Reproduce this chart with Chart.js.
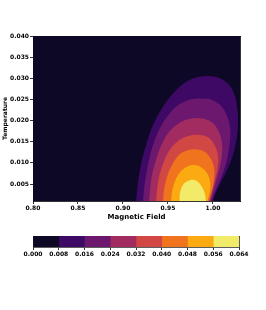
<!DOCTYPE html>
<html>
<head>
<meta charset="utf-8">
<script src="https://cdn.jsdelivr.net/npm/chart.js@4.4.0/dist/chart.umd.min.js"></script>
<style>
  html, body { margin: 0; padding: 0; background: #fff; }
  #wrap { position: relative; width: 266px; height: 310px; }
  canvas { position: absolute; left: 0; top: 0; }
</style>
</head>
<body>
<div id="wrap">
  <canvas id="contourChart" width="266" height="310"></canvas>
  <canvas id="colorbarChart" width="266" height="310"></canvas>
</div>
<script>
// Axis ranges and ticks
const fieldRange = [0.80, 1.03];
const tempRange = [0.001, 0.040];
const xTicks = [0.80, 0.85, 0.90, 0.95, 1.00];
const yTicks = [0.005, 0.010, 0.015, 0.020, 0.025, 0.030, 0.035, 0.040];

// Contour levels and their fill colours (inferno)
const levels = [0.000, 0.008, 0.016, 0.024, 0.032, 0.040, 0.048, 0.056, 0.064];
const levelColors = ['#0c0826', '#3d0965', '#6b186e', '#a22c60', '#d14744', '#f0731d', '#fbab11', '#f2ea69'];

// Contour boundaries (field, temperature)
const c008X = [0.9144, 0.9156, 0.9178, 0.9211, 0.9256, 0.9311, 0.9389, 0.9478, 0.9589, 0.9722, 0.9856, 0.9989, 1.0100, 1.0189, 1.0244, 1.0272, 1.0278, 1.0261, 1.0222, 1.0156, 1.0078, 1.0011, 1.0000];
const c008Y = [0.0005, 0.0036, 0.0071, 0.0107, 0.0142, 0.0178, 0.0213, 0.0244, 0.0272, 0.0294, 0.0304, 0.0305, 0.0298, 0.0282, 0.0258, 0.0225, 0.0190, 0.0154, 0.0119, 0.0083, 0.0050, 0.0019, 0.0005];

const c016X = [0.9222, 0.9233, 0.9256, 0.9289, 0.9333, 0.9400, 0.9489, 0.9600, 0.9733, 0.9867, 0.9989, 1.0089, 1.0156, 1.0189, 1.0189, 1.0167, 1.0122, 1.0056, 1.0000, 0.9978];
const c016Y = [0.0005, 0.0036, 0.0071, 0.0107, 0.0142, 0.0178, 0.0209, 0.0235, 0.0249, 0.0252, 0.0249, 0.0235, 0.0211, 0.0183, 0.0154, 0.0119, 0.0083, 0.0048, 0.0019, 0.0005];

const c024X = [0.9289, 0.9300, 0.9322, 0.9367, 0.9422, 0.9511, 0.9622, 0.9756, 0.9889, 1.0000, 1.0067, 1.0100, 1.0100, 1.0067, 1.0022, 0.9983, 0.9967];
const c024Y = [0.0005, 0.0036, 0.0071, 0.0107, 0.0140, 0.0173, 0.0194, 0.0205, 0.0205, 0.0194, 0.0173, 0.0147, 0.0119, 0.0083, 0.0048, 0.0019, 0.0005];

const c032X = [0.9367, 0.9378, 0.9400, 0.9444, 0.9511, 0.9611, 0.9733, 0.9856, 0.9956, 1.0022, 1.0056, 1.0050, 1.0022, 0.9989, 0.9956];
const c032Y = [0.0005, 0.0036, 0.0067, 0.0097, 0.0128, 0.0152, 0.0164, 0.0166, 0.0159, 0.0140, 0.0116, 0.0088, 0.0060, 0.0031, 0.0005];

const c040X = [0.9444, 0.9456, 0.9489, 0.9544, 0.9622, 0.9722, 0.9822, 0.9911, 0.9978, 1.0011, 1.0011, 0.9983, 0.9944];
const c040Y = [0.0005, 0.0036, 0.0067, 0.0095, 0.0119, 0.0130, 0.0132, 0.0126, 0.0109, 0.0088, 0.0060, 0.0031, 0.0005];

const c048X = [0.9533, 0.9544, 0.9578, 0.9633, 0.9711, 0.9789, 0.9867, 0.9933, 0.9967, 0.9967, 0.9933];
const c048Y = [0.0005, 0.0031, 0.0057, 0.0078, 0.0091, 0.0095, 0.0090, 0.0076, 0.0057, 0.0036, 0.0005];

const c056X = [0.9628, 0.9633, 0.9667, 0.9722, 0.9778, 0.9833, 0.9878, 0.9911, 0.9922];
const c056Y = [0.0005, 0.0029, 0.0048, 0.0057, 0.0060, 0.0055, 0.0043, 0.0026, 0.0005];

const contours = [
    [c008X, c008Y], [c016X, c016Y], [c024X, c024Y], [c032X, c032Y],
    [c040X, c040Y], [c048X, c048Y], [c056X, c056Y]
];

Chart.defaults.font.family = "'DejaVu Sans', sans-serif";
Chart.defaults.font.weight = 'bold';
Chart.defaults.color = '#000';

// Build filled bands: background (lowest band) plus one closed shape per level
function buildContourDatasets() {
    const datasets = [];
    datasets.push({
        data: [
            {x: fieldRange[0], y: tempRange[0]}, {x: fieldRange[1], y: tempRange[0]},
            {x: fieldRange[1], y: tempRange[1]}, {x: fieldRange[0], y: tempRange[1]}
        ],
        backgroundColor: levelColors[0],
        order: 100,
        tension: 0
    });
    contours.forEach((c, i) => {
        datasets.push({
            data: c[0].map((x, j) => ({x: x, y: c[1][j]})),
            backgroundColor: levelColors[i + 1],
            order: contours.length - i,
            tension: 0.35
        });
    });
    return datasets.map(ds => Object.assign({
        showLine: true,
        fill: 'shape',
        borderWidth: 0,
        pointRadius: 0
    }, ds));
}

function fixedTicks(list) {
    return scale => { scale.ticks = list.map(v => ({value: v})); };
}

const frameBorder = {display: true, color: '#000', width: 0.8};
const tickGrid = {display: true, drawOnChartArea: false, drawTicks: true, tickLength: 3, color: '#000', lineWidth: 0.8};
const hiddenAxis = {display: true, ticks: {display: false}, grid: {display: false}, border: frameBorder};

new Chart(document.getElementById('contourChart'), {
    type: 'scatter',
    data: {datasets: buildContourDatasets()},
    options: {
        responsive: false,
        animation: false,
        layout: {padding: {top: 36, right: 26, bottom: 85, left: 0}},
        plugins: {legend: {display: false}, tooltip: {enabled: false}},
        scales: {
            x: {
                type: 'linear', position: 'bottom',
                min: fieldRange[0], max: fieldRange[1],
                afterBuildTicks: fixedTicks(xTicks),
                afterFit: s => { s.height = 24; },
                ticks: {font: {size: 6}, padding: 1, maxRotation: 0, callback: v => v.toFixed(2)},
                grid: tickGrid,
                border: frameBorder,
                title: {display: true, text: 'Magnetic Field', font: {size: 7, weight: 'bold'}, padding: {top: 0, bottom: 4}}
            },
            y: {
                type: 'linear', position: 'left',
                min: tempRange[0], max: tempRange[1],
                afterBuildTicks: fixedTicks(yTicks),
                afterFit: s => { s.width = 33; },
                ticks: {font: {size: 6}, padding: 1, callback: v => v.toFixed(3)},
                grid: tickGrid,
                border: frameBorder,
                title: {display: true, text: 'Temperature', font: {size: 6, weight: 'bold'}, padding: {top: 2, bottom: 0}}
            },
            x2: Object.assign({type: 'linear', position: 'top', afterFit: s => { s.height = 0; }}, hiddenAxis),
            y2: Object.assign({type: 'linear', position: 'right', afterFit: s => { s.width = 0; }}, hiddenAxis)
        }
    }
});

// Colour bar: one floating bar per level band
new Chart(document.getElementById('colorbarChart'), {
    type: 'bar',
    data: {
        labels: [''],
        datasets: levelColors.map((col, i) => ({
            data: [[levels[i], levels[i + 1]]],
            backgroundColor: col,
            borderWidth: 0
        }))
    },
    options: {
        responsive: false,
        animation: false,
        indexAxis: 'y',
        layout: {padding: {top: 236, right: 27, bottom: 48, left: 33}},
        plugins: {legend: {display: false}, tooltip: {enabled: false}},
        datasets: {bar: {grouped: false, barPercentage: 1, categoryPercentage: 1}},
        scales: {
            x: {
                type: 'linear', position: 'bottom',
                min: levels[0], max: levels[levels.length - 1],
                afterBuildTicks: fixedTicks(levels),
                afterFit: s => { s.height = 15; },
                ticks: {font: {size: 6}, padding: 1, maxRotation: 0, callback: v => v.toFixed(3)},
                grid: tickGrid,
                border: {display: true, color: '#333', width: 0.8}
            },
            y: Object.assign({position: 'left', afterFit: s => { s.width = 0; }}, hiddenAxis, {border: {display: true, color: '#333', width: 0.8}}),
            x2: Object.assign({type: 'linear', position: 'top', afterFit: s => { s.height = 0; }}, hiddenAxis, {border: {display: true, color: '#333', width: 0.8}}),
            y2: Object.assign({type: 'linear', position: 'right', afterFit: s => { s.width = 0; }}, hiddenAxis, {border: {display: true, color: '#333', width: 0.8}})
        }
    }
});
</script>
</body>
</html>
